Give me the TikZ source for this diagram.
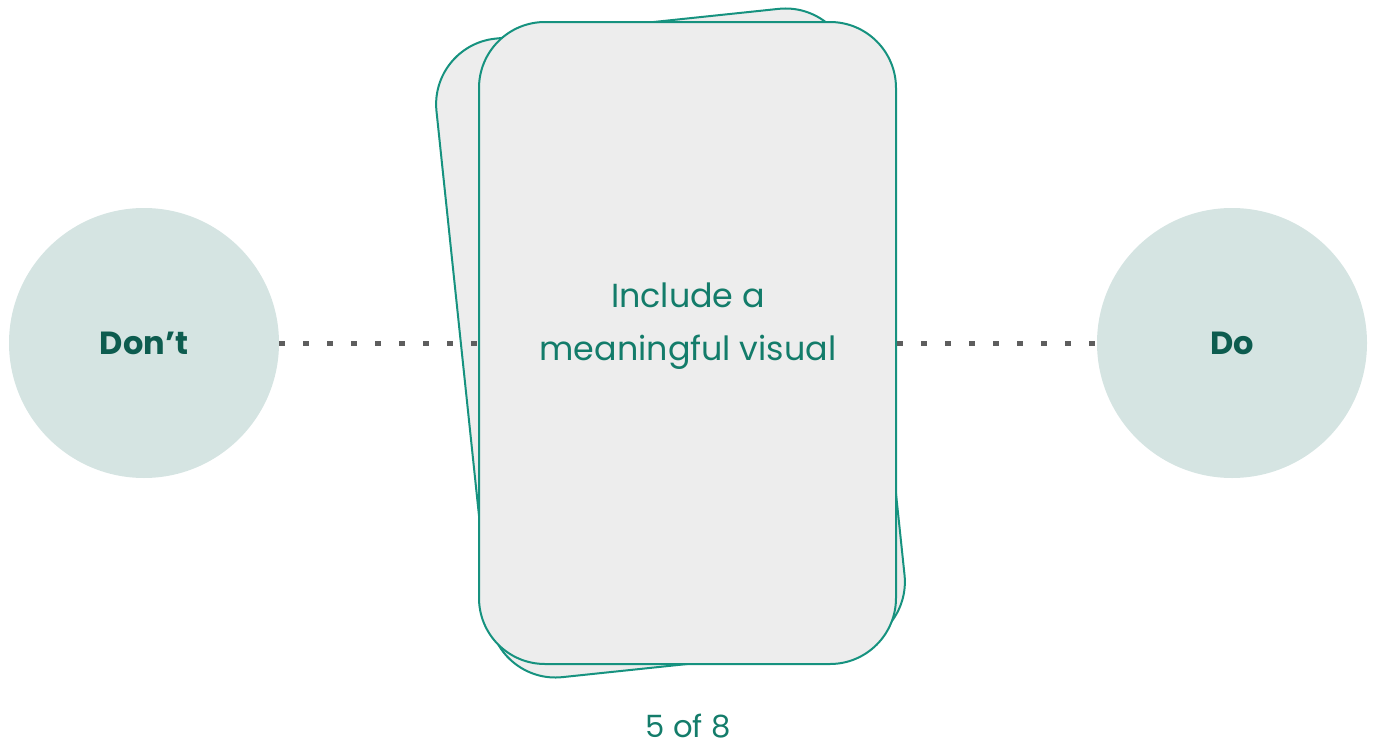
\documentclass[tikz,border=0pt]{standalone}
\usepackage{fontspec}
\setmainfont{Poppins}
\definecolor{circfill}{HTML}{D5E4E2}
\definecolor{darkgreen}{HTML}{0D5C4F}
\definecolor{cardline}{HTML}{16927F}
\definecolor{cardfill}{HTML}{EDEDED}
\definecolor{cardtext}{HTML}{137C6A}
\definecolor{dotgray}{HTML}{5E5E5E}
\begin{document}
\begin{tikzpicture}[x=0.75pt,y=-0.75pt]
\useasboundingbox (0,0) rectangle (1374,746);
\tikzset{
  circ/.style={circle, fill=circfill, minimum size=202.5pt, inner sep=0pt, text=darkgreen, font=\bfseries\fontsize{24}{29}\selectfont},
  card/.style={draw=cardline, fill=cardfill, line width=1.5pt, rounded corners=49.5pt, minimum width=312.75pt, minimum height=481.5pt, inner sep=0pt},
  dots/.style={draw=dotgray, line width=3.75pt, dash pattern=on 4.5pt off 13.5pt},
  ctext/.style={text=cardtext, font=\fontsize{25}{30}\selectfont, anchor=base, inner sep=0pt}
}
\node[circ] (dont) at (144,343) {Don’t};
\node[circ] (do) at (1232,343) {Do};
\node[card, rotate=6] (back) at (670.5,343) {};
\node[card] (card) at (687.5,343) {};
\draw[dots] (dont.east) -- (card.west);
\draw[dots] (card.east) -- (do.west);
\node[ctext] (l1) at (688,307) {Include a};
\node[ctext] (l2) at (688,360) {meaningful visual};
\node[ctext, font=\fontsize{23}{28}\selectfont] (pg) at (688,737) {5 of 8};
\end{tikzpicture}
\end{document}
